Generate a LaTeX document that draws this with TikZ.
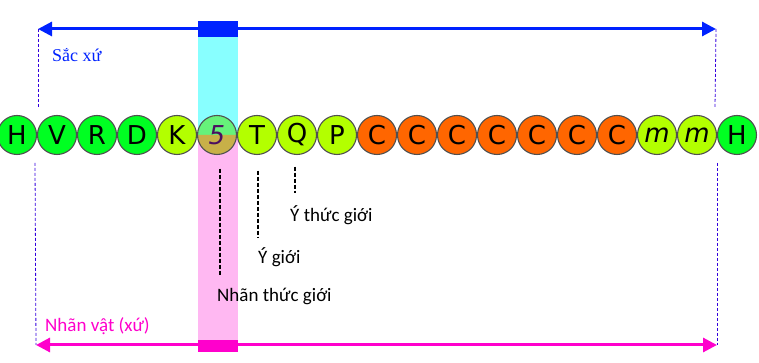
\documentclass[tikz,border=0pt]{standalone}
\usepackage{fontspec}
\setmainfont{Carlito}
\newfontfamily\ballfont{DejaVu Sans}
\newfontfamily\timesfont{Liberation Serif}
\usetikzlibrary{arrows.meta}

\definecolor{ballgreen}{HTML}{00FF22}
\definecolor{balllime}{HTML}{B3FF00}
\definecolor{ballorange}{HTML}{FF6600}
\definecolor{ballrim}{HTML}{505050}
\definecolor{fivetop}{HTML}{66F27A}
\definecolor{fivebottom}{HTML}{C8B048}
\definecolor{fiveink}{HTML}{4B1060}
\definecolor{sacblue}{HTML}{0022FF}
\definecolor{colcyan}{HTML}{88FFFF}
\definecolor{colpink}{HTML}{FFB8F2}
\definecolor{nhanmag}{HTML}{FF00CC}
\definecolor{edgeblue}{HTML}{3300DD}

\begin{document}
\begin{tikzpicture}[x=1pt,y=1pt,line join=round,>={Triangle[length=14pt,width=14pt]}]
  \tikzset{
    ball/.style={circle,draw=ballrim,line width=1.1pt,minimum size=39pt,inner sep=0pt,
      font=\ballfont\fontsize{26}{26}\selectfont},
    bigline/.style={line width=3pt},
    edgeline/.style={edgeblue,line width=0.8pt,dash pattern=on 3pt off 2pt},
    tickline/.style={line width=1.8pt,dash pattern=on 4pt off 2pt},
    lbl/.style={anchor=west,inner sep=0pt,font=\fontsize{19}{19}\selectfont},
  }
  \useasboundingbox (0,0) rectangle (759,363);
  \def\cy{228}

  % ==================== columns ====================
  \fill[colcyan] (198,\cy) rectangle (238,326);
  \fill[colpink] (198,23) rectangle (238,\cy);

  % halves of the 5 ball
  \fill[fivetop] (236.5,\cy) arc (0:180:19.5) -- cycle;
  \fill[fivebottom] (236.5,\cy) arc (0:-180:19.5) -- cycle;

  % ==================== balls ====================
  \foreach \t/\c [count=\i] in {H/ballgreen,V/ballgreen,R/ballgreen,D/ballgreen,K/balllime,
      \color{fiveink}\itshape 5/none,T/balllime,Q/balllime,P/balllime,
      C/ballorange,C/ballorange,C/ballorange,C/ballorange,C/ballorange,C/ballorange,C/ballorange,
      \itshape m/balllime,\itshape m/balllime,H/ballgreen}
    \node[ball,fill=\c] (c\i) at ({17+40*(\i-1)},\cy) {\t};

  % ==================== top: Sac xu ====================
  \coordinate (sacL) at (38,334);
  \coordinate (sacR) at (716,334);
  \draw[bigline,sacblue,<->] (sacL) -- (sacR);
  \fill[sacblue] (198,326) rectangle (238,342);
  \draw[edgeline] (sacL) -- (38,256);
  \draw[edgeline] (sacR) -- (715,256);
  \node[anchor=west,inner sep=0pt,text=sacblue,font=\timesfont\fontsize{18}{18}\selectfont] (sac) at (52,308) {Sắc xứ};

  % ==================== bottom: Nhan vat ====================
  \coordinate (nhanL) at (36,18);
  \coordinate (nhanR) at (717,18);
  \draw[bigline,nhanmag,<->] (nhanL) -- (nhanR);
  \fill[nhanmag] (198,11) rectangle (238,23);
  \draw[edgeline] (35,200) -- (nhanL);
  \draw[edgeline] (717,200) -- (nhanR);
  \node[lbl,text=nhanmag] (nhanvat) at (45,37) {Nhãn vật (xứ)};

  % ==================== gioi labels ====================
  \node[lbl] (ythuc) at (290,148) {Ý thức giới};
  \node[lbl] (ygioi) at (258,106) {Ý giới};
  \node[lbl] (nhanthuc) at (217,67) {Nhãn thức giới};

  \draw[tickline,shorten <=13.5pt,shorten >=11pt] ([xshift=3pt]c6.south) -- ([xshift=3pt]c6.south |- nhanthuc.north);
  \draw[tickline,shorten <=15.5pt,shorten >=9pt] ([xshift=1pt]c7.south) -- ([xshift=1pt]c7.south |- ygioi.north);
  \draw[tickline,shorten <=11.5pt,shorten >=12pt] ([xshift=-2pt]c8.south) -- ([xshift=-2pt]c8.south |- ythuc.north);
\end{tikzpicture}
\end{document}
